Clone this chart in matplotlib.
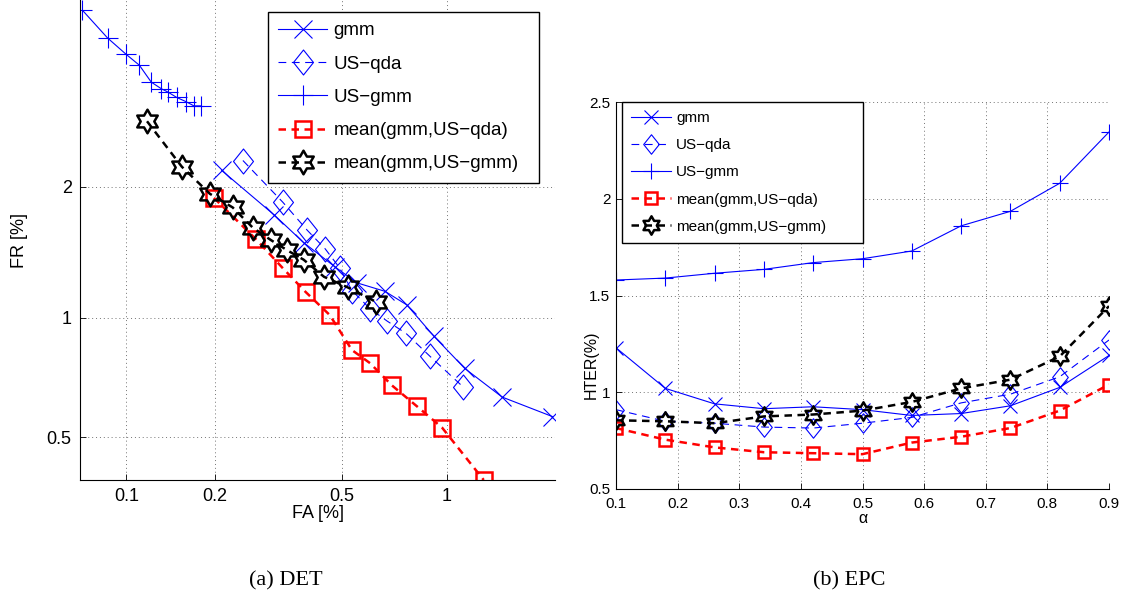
import math
import numpy as np
import matplotlib
matplotlib.use('Agg')
import matplotlib.pyplot as plt
from matplotlib.path import Path

plt.rcParams['font.family'] = ['Liberation Sans', 'DejaVu Sans']

names = ['gmm', 'US\u2212qda', 'US\u2212gmm', 'mean(gmm,US\u2212qda)', 'mean(gmm,US\u2212gmm)']

# DET curves (FA, FR in %)
gmm_fa = [0.210, 0.310, 0.382, 0.475, 0.553, 0.669, 0.773, 0.922, 1.12, 1.41, 1.90]
gmm_fr = [2.17, 1.73, 1.50, 1.32, 1.21, 1.155, 1.072, 0.90, 0.75, 0.635, 0.566]
qda_fa = [0.246, 0.329, 0.392, 0.445, 0.492, 0.535, 0.605, 0.679, 0.769, 0.898, 1.11]
qda_fr = [2.28, 1.85, 1.60, 1.45, 1.31, 1.16, 1.05, 0.98, 0.915, 0.804, 0.673]
usg_fa = [0.070, 0.086, 0.100, 0.111, 0.122, 0.132, 0.139, 0.149, 0.160, 0.170, 0.179]
usg_fr = [4.59, 4.06, 3.77, 3.59, 3.32, 3.22, 3.17, 3.09, 3.03, 2.97, 2.97]
mq_fa = [0.198, 0.270, 0.329, 0.388, 0.459, 0.535, 0.605, 0.700, 0.826, 0.970, 1.26]
mq_fr = [1.89, 1.53, 1.31, 1.15, 1.014, 0.833, 0.773, 0.680, 0.601, 0.530, 0.385]
mg_fa = [0.118, 0.155, 0.192, 0.228, 0.265, 0.302, 0.340, 0.382, 0.441, 0.520, 0.630]
mg_fr = [2.76, 2.21, 1.93, 1.80, 1.62, 1.52, 1.44, 1.37, 1.25, 1.18, 1.09]

# EPC curves (HTER in %)
alpha = [0.1, 0.18, 0.26, 0.34, 0.42, 0.5, 0.58, 0.66, 0.74, 0.82, 0.9]
epc_gmm = [1.23, 1.02, 0.94, 0.915, 0.925, 0.91, 0.88, 0.89, 0.93, 1.025, 1.19]
epc_qda = [0.91, 0.85, 0.84, 0.82, 0.815, 0.84, 0.87, 0.945, 0.99, 1.08, 1.27]
epc_usg = [1.58, 1.59, 1.615, 1.635, 1.67, 1.69, 1.73, 1.86, 1.935, 2.08, 2.345]
epc_mq = [0.815, 0.755, 0.715, 0.69, 0.685, 0.68, 0.74, 0.77, 0.815, 0.905, 1.04]
epc_mg = [0.855, 0.85, 0.84, 0.875, 0.885, 0.905, 0.95, 1.02, 1.065, 1.185, 1.445]

det_xticks = [0.1, 0.2, 0.5, 1]
det_yticks = [0.5, 1, 2]
epc_xticks = [0.1, 0.2, 0.3, 0.4, 0.5, 0.6, 0.7, 0.8, 0.9]
epc_yticks = [0.5, 1, 1.5, 2, 2.5]

# normal deviate scale for the DET plot
erf = np.vectorize(math.erf)
zg = np.linspace(-6, 6, 6001)
cg = 0.5 * (1 + erf(zg / np.sqrt(2))) * 100


def probit(p):
    return np.interp(np.asarray(p, dtype=float), cg, zg)


def cdf(z):
    return 0.5 * (1 + erf(np.asarray(z, dtype=float) / np.sqrt(2))) * 100


# MATLAB-like markers
ang = np.deg2rad(np.arange(12) * 30 + 90)
rad = np.where(np.arange(12) % 2 == 0, 1.0, 1 / np.sqrt(3))
hexv = np.column_stack([rad * np.cos(ang), rad * np.sin(ang)])
hexagram = Path(np.vstack([hexv, hexv[:1]]), closed=True)
diamond = Path([(0, 1), (0.8, 0), (0, -1), (-0.8, 0), (0, 1)], closed=True)

W, H = 1131, 599
fig = plt.figure(figsize=(W / 100, H / 100), dpi=100)
ax1 = fig.add_axes([80 / W, 1 - 480 / H, 475 / W, 480 / H])
ax2 = fig.add_axes([616 / W, 1 - 489 / H, 493 / W, 387 / H])


def draw(ax, xs, ys, big):
    k = 1.0 if big else 0.78
    ax.plot(xs[0], ys[0], '-', color='b', lw=0.8, marker='x', ms=13 * k, mew=0.8, label=names[0])
    ax.plot(xs[1], ys[1], color='b', lw=0.8, ls=(0, (7, 5)), marker=diamond, ms=18 * k,
            mfc='none', mew=0.8, label=names[1])
    ax.plot(xs[2], ys[2], '-', color='b', lw=0.8, marker='+', ms=15 * k, mew=0.8, label=names[2])
    ax.plot(xs[3], ys[3], color='r', lw=1.8, ls=(0, (3, 2.2)), marker='s', ms=11 * k,
            mfc='none', mew=1.8, label=names[3])
    ax.plot(xs[4], ys[4], color='k', lw=1.8, ls=(0, (3, 2.2)), marker=hexagram, ms=17 * k,
            mfc='none', mew=1.8, label=names[4])


draw(ax1, [gmm_fa, qda_fa, usg_fa, mq_fa, mg_fa], [gmm_fr, qda_fr, usg_fr, mq_fr, mg_fr], True)
ax1.set_xscale('function', functions=(probit, cdf))
ax1.set_yscale('function', functions=(probit, cdf))
ax1.set_xlim(0.0686, 1.93)
ax1.set_ylim(0.385, 4.80)
ax1.set_xticks(det_xticks, ['0.1', '0.2', '0.5', '1'])
ax1.set_yticks(det_yticks, ['0.5', '1', '2'])
ax1.minorticks_off()
ax1.set_xlabel('FA [%]', fontsize=13, labelpad=0)
ax1.set_ylabel('FR [%]', fontsize=13)
ax1.yaxis.set_label_coords((28 - 80) / 475, 0.5)
ax1.tick_params(direction='in', length=4, width=0.6, labelsize=13, pad=6)

draw(ax2, [alpha] * 5, [epc_gmm, epc_qda, epc_usg, epc_mq, epc_mg], False)
ax2.set_xlim(0.1, 0.9)
ax2.set_ylim(0.5, 2.5)
ax2.set_xticks(epc_xticks, ['0.1', '0.2', '0.3', '0.4', '0.5', '0.6', '0.7', '0.8', '0.9'])
ax2.set_yticks(epc_yticks, ['0.5', '1', '1.5', '2', '2.5'])
ax2.set_xlabel('\u03b1', fontsize=11.5, labelpad=0)
ax2.set_ylabel('HTER(%)', fontsize=11.5)
ax2.yaxis.set_label_coords((599 - 616) / 493, (489 - 365) / 387)
ax2.tick_params(axis='x', direction='in', length=4, width=0.6, labelsize=11, pad=6)
ax2.tick_params(axis='y', direction='in', length=4, width=0.6, labelsize=11, pad=4)

for ax in (ax1, ax2):
    ax.grid(True, ls=(0, (1, 3)), color='0.45', lw=0.7)
    ax.spines['top'].set_visible(False)
    ax.spines['right'].set_visible(False)
    for s in ('left', 'bottom'):
        ax.spines[s].set_linewidth(0.8)
    ax.set_axisbelow(True)

leg1 = ax1.legend(loc='upper left', bbox_to_anchor=(268 / W, 1 - 12 / H - 0.01, 271 / W, 0.01),
                  bbox_transform=fig.transFigure, mode='expand', borderaxespad=0,
                  fontsize=13.5, handlelength=2.6, handletextpad=0.35, labelspacing=0.86,
                  borderpad=0.55, fancybox=False, framealpha=1, edgecolor='k')
leg1.get_frame().set_linewidth(1.0)
leg2 = ax2.legend(loc='upper left', bbox_to_anchor=(622 / W, 1 - 102 / H - 0.01, 241 / W, 0.01),
                  bbox_transform=fig.transFigure, mode='expand', borderaxespad=0,
                  fontsize=11, handlelength=2.6, handletextpad=0.35, labelspacing=0.86,
                  borderpad=0.6, fancybox=False, framealpha=1, edgecolor='k')
leg2.get_frame().set_linewidth(1.0)

fig.text(286 / W, 1 - 581 / H, '(a) DET', family='Liberation Serif', fontsize=16, ha='center', va='center')
fig.text(849 / W, 1 - 581 / H, '(b) EPC', family='Liberation Serif', fontsize=16, ha='center', va='center')

fig.savefig('out.png', dpi=100)
